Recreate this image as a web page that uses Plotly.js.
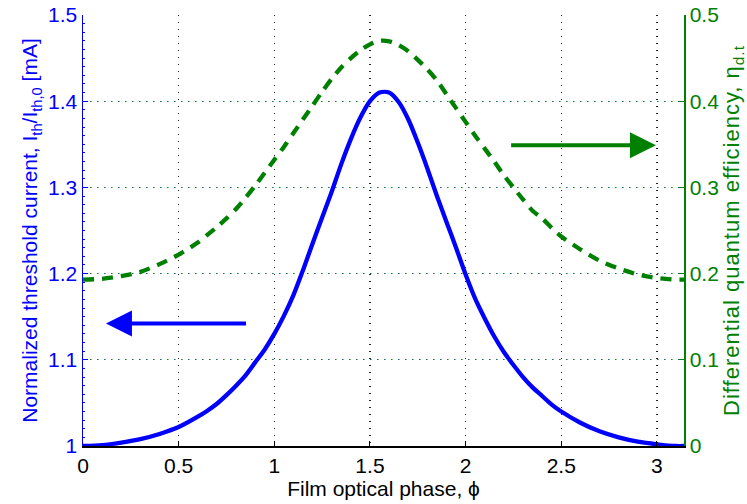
<!DOCTYPE html>
<html>
<head>
<meta charset="utf-8">
<script src="https://cdn.plot.ly/plotly-3.0.1.min.js"></script>
<style>
html,body{margin:0;padding:0;background:#fff;}
#chart{width:747px;height:504px;}
.g-y2title text{letter-spacing:1px;}
</style>
</head>
<body>
<div id="chart"></div>
<script>
// Film optical phase (rad)
const phase = [0, 0.1, 0.2, 0.3, 0.4, 0.5, 0.6, 0.65, 0.7, 0.75, 0.8, 0.85, 0.9, 0.95, 1.0, 1.05, 1.1, 1.15, 1.2, 1.25, 1.3, 1.35, 1.4, 1.45, 1.5, 1.55,
               1.6, 1.65, 1.7, 1.75, 1.8, 1.85, 1.9, 1.95, 2.0, 2.05, 2.1, 2.15, 2.2, 2.25, 2.3, 2.35,
               2.4, 2.45, 2.5, 2.6, 2.7, 2.8, 2.9, 3.0, 3.1, 3.14159];
// Normalized threshold current (left axis)
const thresholdCurrent = [1.000, 1.001, 1.004, 1.008, 1.014, 1.022, 1.034, 1.041, 1.049, 1.059, 1.070, 1.082, 1.097, 1.112, 1.130, 1.151, 1.175, 1.204, 1.235, 1.265, 1.295, 1.327, 1.356, 1.381, 1.400, 1.410,
                          1.410, 1.399, 1.379, 1.352, 1.322, 1.290, 1.260, 1.230, 1.199, 1.171, 1.148, 1.127, 1.109, 1.094, 1.080, 1.068,
                          1.058, 1.048, 1.040, 1.027, 1.017, 1.010, 1.005, 1.002, 1.000, 1.000];
// Differential quantum efficiency (right axis)
const quantumEfficiency = [0.193, 0.194, 0.197, 0.202, 0.211, 0.222, 0.236, 0.245, 0.254, 0.264, 0.275, 0.288, 0.302, 0.317, 0.332, 0.347, 0.363, 0.379, 0.395, 0.411, 0.426, 0.439, 0.450, 0.459, 0.466, 0.470,
                           0.4695, 0.465, 0.458, 0.448, 0.437, 0.424, 0.408, 0.392, 0.376, 0.360, 0.345, 0.330, 0.314, 0.300, 0.286, 0.273,
                           0.264, 0.253, 0.243, 0.228, 0.215, 0.206, 0.199, 0.195, 0.193, 0.193];

const xTicks = [0, 0.5, 1, 1.5, 2, 2.5, 3];
const xTickText = ['0', '0.5', '1', '1.5', '2', '2.5', '3'];
const yLeftTicks = [1, 1.1, 1.2, 1.3, 1.4, 1.5];
const yLeftTickText = ['1', '1.1', '1.2', '1.3', '1.4', '1.5'];
const yRightTicks = [0, 0.1, 0.2, 0.3, 0.4, 0.5];
const yRightTickText = ['0', '0.1', '0.2', '0.3', '0.4', '0.5'];

const BLUE = '#0000ff';
const GREEN = '#008000';
const FONT = 'Liberation Sans, Arial, Helvetica, sans-serif';

const traces = [
  {
    x: phase, y: thresholdCurrent, type: 'scatter', mode: 'lines',
    line: {color: BLUE, width: 4.3, shape: 'spline', smoothing: 0.8},
    yaxis: 'y', hoverinfo: 'skip'
  },
  {
    x: phase, y: quantumEfficiency, type: 'scatter', mode: 'lines',
    line: {color: GREEN, width: 4.3, dash: '11px,8px', shape: 'spline', smoothing: 0.8},
    yaxis: 'y2', hoverinfo: 'skip'
  }
];

const layout = {
  width: 747, height: 504,
  margin: {l: 83, r: 63, t: 15, b: 58},
  paper_bgcolor: '#fff', plot_bgcolor: '#fff',
  showlegend: false,
  font: {family: FONT, size: 21, color: '#000'},
  xaxis: {
    range: [0, Math.PI], tickvals: xTicks, ticktext: xTickText,
    ticks: 'inside', ticklen: 5, tickcolor: '#000', tickwidth: 1,
    showline: true, linecolor: '#000', linewidth: 2,
    showgrid: true, gridcolor: '#222', griddash: '1px,6px', gridwidth: 1.2,
    zeroline: false, tickfont: {size: 21, color: '#000'},
    title: {text: 'Film optical phase, ϕ', font: {size: 21, color: '#000'}, standoff: 3}
  },
  yaxis: {
    range: [1, 1.5], tickvals: yLeftTicks, ticktext: yLeftTickText,
    ticks: 'inside', ticklen: 5, tickcolor: BLUE,
    showline: true, linecolor: BLUE, linewidth: 1.5,
    showgrid: true, gridcolor: 'rgba(40,60,220,0.9)', griddash: '1px,6px', gridwidth: 1.2,
    zeroline: false, tickfont: {size: 21, color: BLUE},
    minor: {dtick: 0.01, ticks: 'inside', ticklen: 2, tickcolor: BLUE, showgrid: false},
    title: {text: 'Normalized threshold current, I<sub>th</sub>/I<sub>th,0</sub> [mA]', font: {size: 21, color: BLUE}, standoff: 4}
  },
  yaxis2: {
    range: [0, 0.5], tickvals: yRightTicks, ticktext: yRightTickText,
    overlaying: 'y', side: 'right',
    ticks: 'inside', ticklen: 5, tickcolor: GREEN,
    showline: true, linecolor: GREEN, linewidth: 1.5,
    showgrid: true, gridcolor: 'rgba(0,128,0,0.55)', griddash: '2px,5px', gridwidth: 1,
    zeroline: false, tickfont: {size: 21, color: GREEN},
    title: {text: 'Differential quantum efficiency, η<sub>d.t</sub>', font: {size: 22, color: GREEN}, standoff: 4}
  },
  annotations: [
    {
      xref: 'x', yref: 'y', axref: 'x', ayref: 'y',
      x: 0.12, y: 1.142, ax: 0.86, ay: 1.142,
      text: '', showarrow: true, arrowhead: 2, arrowsize: 1.3, arrowwidth: 4, arrowcolor: BLUE
    },
    {
      xref: 'x', yref: 'y2', axref: 'x', ayref: 'y2',
      x: 2.995, y: 0.349, ax: 2.23, ay: 0.349,
      text: '', showarrow: true, arrowhead: 2, arrowsize: 1.3, arrowwidth: 4, arrowcolor: GREEN
    }
  ]
};

Plotly.newPlot('chart', traces, layout, {staticPlot: true, displayModeBar: false});
</script>
</body>
</html>
